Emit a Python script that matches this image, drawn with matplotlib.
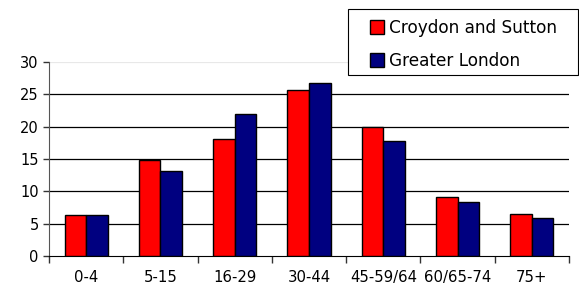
import numpy as np
import matplotlib
matplotlib.use("Agg")
import matplotlib.pyplot as plt
from matplotlib.patches import Rectangle

categories = ["0-4", "5-15", "16-29", "30-44", "45-59/64", "60/65-74", "75+"]
croydon_sutton = [6.4, 14.8, 18.1, 25.6, 19.9, 9.1, 6.5]
greater_london = [6.4, 13.2, 22.0, 26.7, 17.8, 8.4, 5.8]
y_ticks = [0, 5, 10, 15, 20, 25, 30]

plt.rcParams["font.family"] = ["DejaVu Sans"]

W, H = 579, 289
fig = plt.figure(figsize=(W / 100, H / 100), dpi=100)
ax = fig.add_axes([49 / W, 1 - 256 / H, 520 / W, 194 / H])

x = np.arange(len(categories))
w = 0.29
ax.bar(x - w / 2, croydon_sutton, w, color="#ff0000", edgecolor="black",
       linewidth=1.0, label="Croydon and Sutton", zorder=3)
ax.bar(x + w / 2, greater_london, w, color="#000080", edgecolor="black",
       linewidth=1.0, label="Greater London", zorder=3)

ax.set_xlim(-0.5, len(categories) - 0.5)
ax.set_ylim(0, 30)
ax.set_yticks(y_ticks)
for t in y_ticks[1:-1]:
    ax.axhline(t, color="black", linewidth=0.9, zorder=1)
ax.axhline(30, color="#e8e8e8", linewidth=0.9, zorder=1)

ax.set_xticks(x)
ax.set_xticklabels(categories, fontsize=10.7)
ax.set_xticks(np.arange(len(categories) + 1) - 0.5, minor=True)
ax.tick_params(axis="x", which="major", length=0, pad=10)
ax.tick_params(axis="x", which="minor", length=5, width=1.0, color="#333333")
ax.tick_params(axis="y", length=4, width=1.0, color="#333333", labelsize=10.5)

for s in ["top", "right"]:
    ax.spines[s].set_visible(False)
ax.spines["left"].set_color("#555555")
ax.spines["bottom"].set_color("black")

# legend box drawn by hand so its size matches the original
fig.patches.append(Rectangle((348 / W, 1 - 75 / H), 230 / W, 66 / H,
                             transform=fig.transFigure, facecolor="white",
                             edgecolor="black", linewidth=0.8))
fig.legend(loc="upper left", bbox_to_anchor=(370 / W, 1 - 19 / H),
           frameon=False, fontsize=12.2,
           handlelength=0.85, handleheight=0.95, handletextpad=0.3,
           borderpad=0, labelspacing=0.88, borderaxespad=0)

fig.savefig("out.png", dpi=100)
